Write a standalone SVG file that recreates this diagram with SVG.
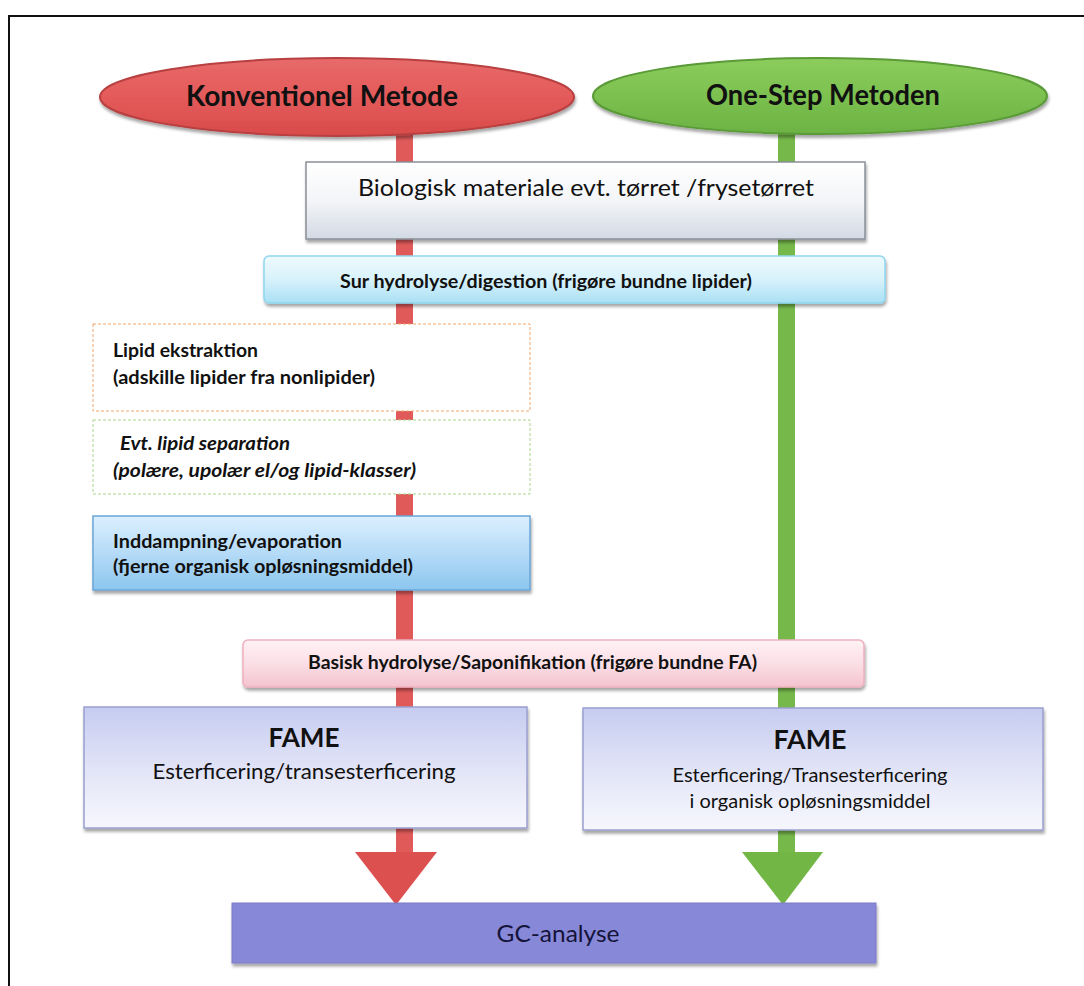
<svg xmlns="http://www.w3.org/2000/svg" width="1084" height="986" viewBox="0 0 1084 986">
  <style>
    text { font-family: Lato, "Liberation Sans", sans-serif; fill: #111; }
    .hdr { font-size: 28px; font-weight: bold; text-anchor: middle; }
    .c { text-anchor: middle; }
    .b { font-weight: bold; }
    .it { font-style: italic; }
    .step { font-size: 18px; font-weight: bold; }
  </style>
  <defs>
    <filter id="shadow" x="-5%" y="-20%" width="110%" height="150%">
      <feDropShadow dx="1" dy="3" stdDeviation="1.5" flood-color="#000" flood-opacity="0.35"/>
    </filter>
    <linearGradient id="gRed" x1="0" y1="0" x2="0" y2="1">
      <stop offset="0" stop-color="#e86a6a"/>
      <stop offset="0.5" stop-color="#e45a5a"/>
      <stop offset="1" stop-color="#d94b4b"/>
    </linearGradient>
    <linearGradient id="gGreen" x1="0" y1="0" x2="0" y2="1">
      <stop offset="0" stop-color="#8ccc5c"/>
      <stop offset="0.5" stop-color="#7cc150"/>
      <stop offset="1" stop-color="#6cb244"/>
    </linearGradient>
    <linearGradient id="gGray" x1="0" y1="0" x2="0" y2="1">
      <stop offset="0" stop-color="#ffffff"/>
      <stop offset="0.5" stop-color="#f4f5f8"/>
      <stop offset="1" stop-color="#d3dae4"/>
    </linearGradient>
    <linearGradient id="gCyan" x1="0" y1="0" x2="0" y2="1">
      <stop offset="0" stop-color="#eefafd"/>
      <stop offset="0.5" stop-color="#d8f2fb"/>
      <stop offset="1" stop-color="#a9e0f4"/>
    </linearGradient>
    <linearGradient id="gBlue" x1="0" y1="0" x2="0" y2="1">
      <stop offset="0" stop-color="#dcefff"/>
      <stop offset="0.5" stop-color="#b5dbf7"/>
      <stop offset="1" stop-color="#8cc6ef"/>
    </linearGradient>
    <linearGradient id="gPink" x1="0" y1="0" x2="0" y2="1">
      <stop offset="0" stop-color="#fff2f5"/>
      <stop offset="0.5" stop-color="#fbdfe6"/>
      <stop offset="1" stop-color="#f4c3cf"/>
    </linearGradient>
    <linearGradient id="gLav" x1="0" y1="0" x2="0" y2="1">
      <stop offset="0" stop-color="#c6ccf0"/>
      <stop offset="0.6" stop-color="#e6e8f8"/>
      <stop offset="1" stop-color="#f6f7fd"/>
    </linearGradient>
  </defs>

  <rect width="1084" height="986" fill="#ffffff"/>

  <!-- outer frame -->
  <path d="M8 16 H1084 M9 16 V986" fill="none" stroke="#111" stroke-width="2"/>

  <!-- flow lines and arrowheads -->
  <g id="connectors">
    <rect x="396" y="130" width="17" height="728" fill="#e05a5a"/>
    <rect x="778" y="128" width="17" height="730" fill="#76b84a"/>
    <polygon points="355,852 437,852 396,905" fill="#dd5050"/>
    <polygon points="742,852 823,852 783,905" fill="#72b646"/>
  </g>

  <g id="konventionel">
    <ellipse cx="337" cy="97" rx="237" ry="39" fill="url(#gRed)" stroke="#b84040" stroke-width="2" filter="url(#shadow)"/>
    <text class="hdr" x="322" y="106" textLength="272" lengthAdjust="spacingAndGlyphs">Konventionel  Metode</text>
  </g>

  <g id="onestep">
    <ellipse cx="820" cy="96" rx="227" ry="38" fill="url(#gGreen)" stroke="#5a9a38" stroke-width="2" filter="url(#shadow)"/>
    <text class="hdr" x="823" y="105" textLength="234" lengthAdjust="spacingAndGlyphs">One-Step Metoden</text>
  </g>

  <g id="biologisk">
    <rect x="306" y="162" width="559" height="77" fill="url(#gGray)" stroke="#8a8f98" stroke-width="1.5" filter="url(#shadow)"/>
    <text class="c" x="586" y="196" font-size="24" textLength="456" lengthAdjust="spacingAndGlyphs">Biologisk materiale evt. tørret /frysetørret</text>
  </g>

  <g id="sur-hydrolyse">
    <rect x="264" y="256" width="621" height="47" rx="5" fill="url(#gCyan)" stroke="#8fd6f0" stroke-width="1.5" filter="url(#shadow)"/>
    <text class="step" x="340" y="288" textLength="412" lengthAdjust="spacingAndGlyphs">Sur hydrolyse/digestion (frigøre bundne lipider)</text>
  </g>

  <g id="lipid-ekstraktion">
    <rect x="93" y="324" width="437" height="87" fill="#ffffff" stroke="#f3a56a" stroke-width="1" stroke-dasharray="3 2"/>
    <text class="step" x="113" y="357" textLength="145" lengthAdjust="spacingAndGlyphs">Lipid ekstraktion</text>
    <text class="step" x="113" y="384" textLength="262" lengthAdjust="spacingAndGlyphs">(adskille lipider fra nonlipider)</text>
  </g>

  <g id="lipid-separation">
    <rect x="93" y="420" width="437" height="74" fill="#ffffff" stroke="#a9d58a" stroke-width="1" stroke-dasharray="3 2"/>
    <text class="step it" x="120" y="450" textLength="170" lengthAdjust="spacingAndGlyphs">Evt. lipid separation</text>
    <text class="step it" x="113" y="477" textLength="303" lengthAdjust="spacingAndGlyphs">(polære, upolær el/og lipid-klasser)</text>
  </g>

  <g id="inddampning">
    <rect x="93" y="516" width="437" height="74" fill="url(#gBlue)" stroke="#6aa6d8" stroke-width="1.5" filter="url(#shadow)"/>
    <text class="step" x="113" y="548" textLength="229" lengthAdjust="spacingAndGlyphs">Inddampning/evaporation</text>
    <text class="step" x="113" y="573" textLength="300" lengthAdjust="spacingAndGlyphs">(fjerne organisk opløsningsmiddel)</text>
  </g>

  <g id="basisk-hydrolyse">
    <rect x="243" y="640" width="621" height="47" rx="5" fill="url(#gPink)" stroke="#eeb0be" stroke-width="1.5" filter="url(#shadow)"/>
    <text class="step" x="308" y="669" font-size="17" textLength="449" lengthAdjust="spacingAndGlyphs">Basisk hydrolyse/Saponifikation (frigøre bundne FA)</text>
  </g>

  <g id="fame-konventionel">
    <rect x="84" y="707" width="443" height="121" fill="url(#gLav)" stroke="#9a9fd0" stroke-width="1.5" filter="url(#shadow)"/>
    <text class="b c" x="304" y="747" font-size="27" textLength="71" lengthAdjust="spacingAndGlyphs">FAME</text>
    <text class="c" x="304" y="779" font-size="22" textLength="303" lengthAdjust="spacingAndGlyphs">Esterficering/transesterficering</text>
  </g>

  <g id="fame-onestep">
    <rect x="583" y="708" width="460" height="122" fill="url(#gLav)" stroke="#9a9fd0" stroke-width="1.5" filter="url(#shadow)"/>
    <text class="b c" x="810" y="749" font-size="27" textLength="73" lengthAdjust="spacingAndGlyphs">FAME</text>
    <text class="c" x="810" y="782" font-size="19" textLength="275" lengthAdjust="spacingAndGlyphs">Esterficering/Transesterficering</text>
    <text class="c" x="810" y="808" font-size="19" textLength="241" lengthAdjust="spacingAndGlyphs">i organisk opløsningsmiddel</text>
  </g>

  <g id="gc-analyse">
    <rect x="232" y="903" width="644" height="60" fill="#8888d8" stroke="#7a7ac8" stroke-width="1" filter="url(#shadow)"/>
    <text class="c" x="558" y="942" font-size="24" textLength="123" lengthAdjust="spacingAndGlyphs" style="fill:#14143a">GC-analyse</text>
  </g>
</svg>
